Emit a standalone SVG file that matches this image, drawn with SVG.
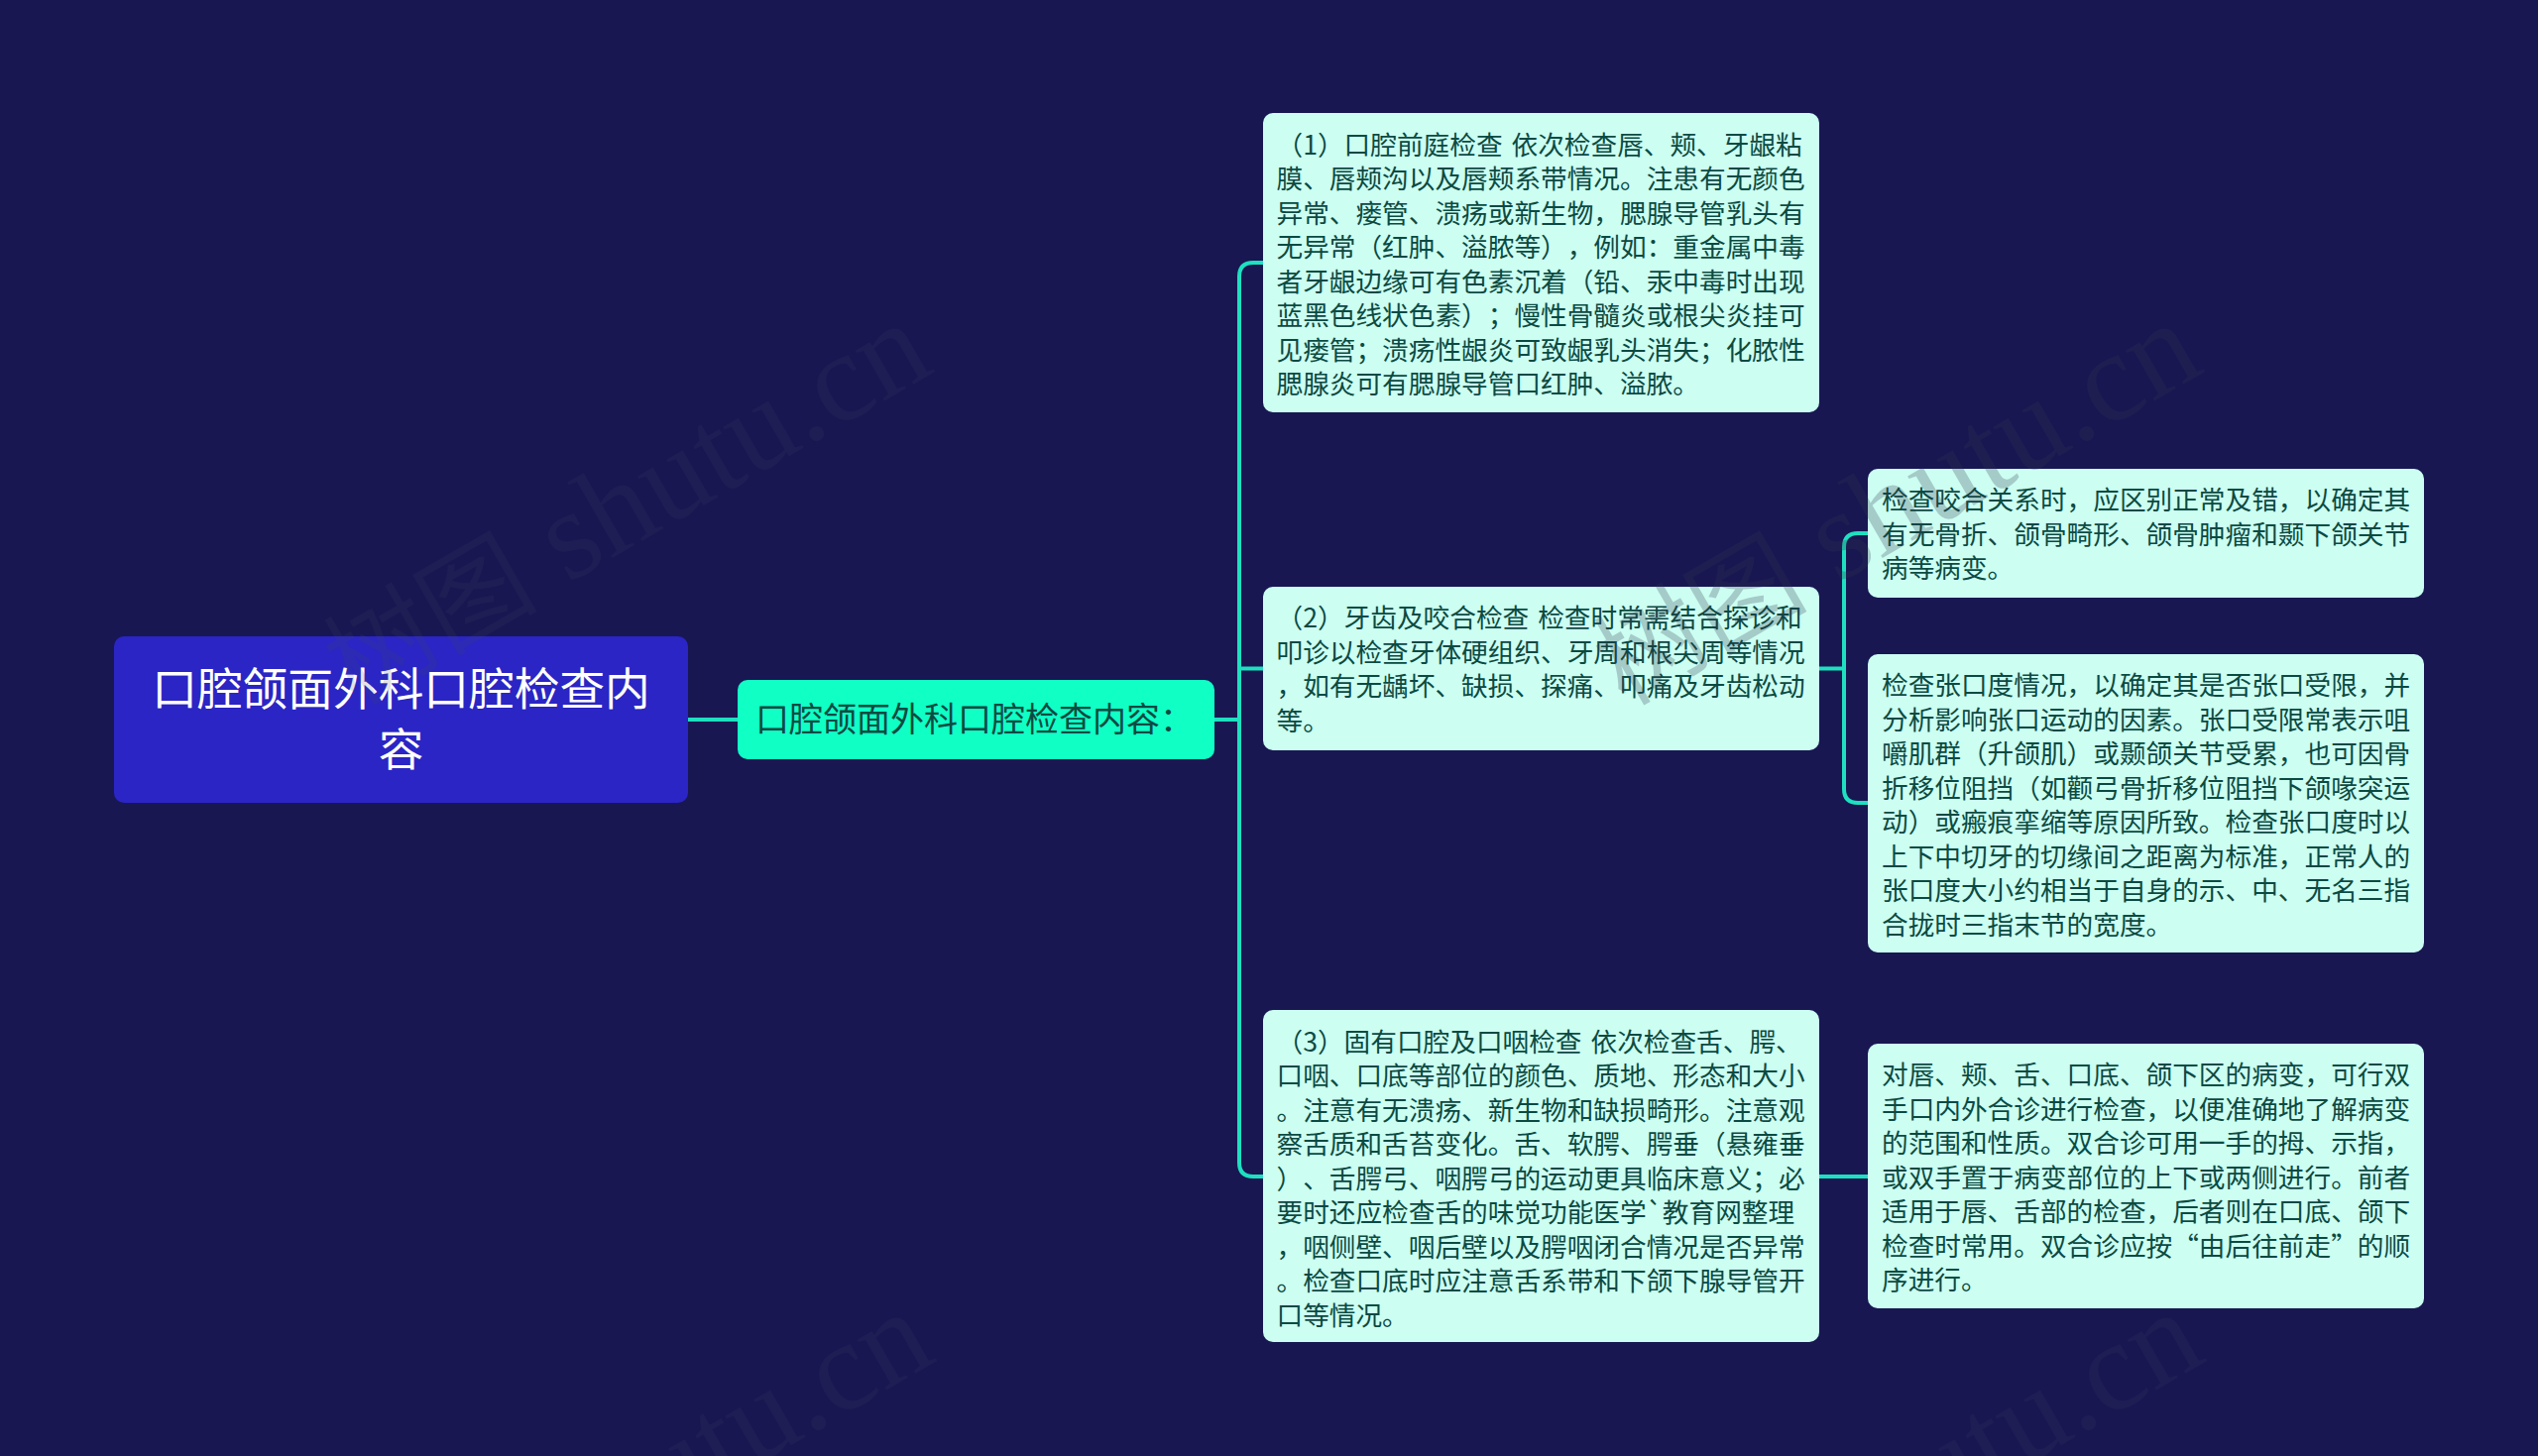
<svg xmlns="http://www.w3.org/2000/svg" width="2560" height="1469" viewBox="0 0 2560 1469">
<style>
text{font-family:"Noto Sans CJK SC","Noto Sans",sans-serif;text-spacing-trim:space-all;font-kerning:none}
.leaf rect{fill:#ccfff2}
.leaf text{fill:#0b4a42;font-size:26.67px;word-spacing:3px}
.conn{fill:none;stroke:#1ee0c0;stroke-width:4}
.wm{font-family:"Liberation Serif","Noto Sans CJK SC",serif;font-size:128px;text-anchor:end;fill:#444860;opacity:.15}
.wm tspan{font-size:108px}
</style>
<rect id="bg" width="2560" height="1469" fill="#181752"/>
<g id="connectors">
<path class="conn" d="M694 726H744"/>
<path class="conn" d="M1225 726H1250"/>
<path class="conn" d="M1274 265H1264Q1250 265 1250 279V1173Q1250 1187 1264 1187H1274"/>
<path class="conn" d="M1250 674.500H1274"/>
<path class="conn" d="M1835 674.500H1860"/>
<path class="conn" d="M1884 538H1874Q1860 538 1860 552V796Q1860 810 1874 810H1884"/>
<path class="conn" d="M1835 1187H1884"/>
</g>
<g id="root">
<rect x="115" y="642" width="579" height="168" rx="10" fill="#2a25c4"/>
<text x="404.500" y="712" fill="#fff" font-size="45.700" text-anchor="middle">口腔颌面外科口腔检查内</text>
<text x="404.500" y="773" fill="#fff" font-size="45.700" text-anchor="middle">容</text>
</g>
<g id="sub">
<rect x="744" y="686" width="481" height="80" rx="10" fill="#10ffc5"/>
<text x="762" y="738" fill="#0b4a42" font-size="34">口腔颌面外科口腔检查内容：</text>
</g>
<g id="n1" class="leaf">
<rect x="1274" y="114" width="561" height="302" rx="10"/>
<text x="1287.500" y="155.500">（1）口腔前庭检查 依次检查唇、颊、牙龈粘<tspan x="1287.500" dy="34.500">膜、唇颊沟以及唇颊系带情况。注患有无颜色</tspan><tspan x="1287.500" dy="34.500">异常、瘘管、溃疡或新生物，腮腺导管乳头有</tspan><tspan x="1287.500" dy="34.500">无异常（红肿、溢脓等），例如：重金属中毒</tspan><tspan x="1287.500" dy="34.500">者牙龈边缘可有色素沉着（铅、汞中毒时出现</tspan><tspan x="1287.500" dy="34.500">蓝黑色线状色素）；慢性骨髓炎或根尖炎挂可</tspan><tspan x="1287.500" dy="34.500">见瘘管；溃疡性龈炎可致龈乳头消失；化脓性</tspan><tspan x="1287.500" dy="34.500">腮腺炎可有腮腺导管口红肿、溢脓。</tspan></text>
</g>
<g id="n2" class="leaf">
<rect x="1274" y="592" width="561" height="165" rx="10"/>
<text x="1287.500" y="633">（2）牙齿及咬合检查 检查时常需结合探诊和<tspan x="1287.500" dy="34.500">叩诊以检查牙体硬组织、牙周和根尖周等情况</tspan><tspan x="1287.500" dy="34.500">，如有无龋坏、缺损、探痛、叩痛及牙齿松动</tspan><tspan x="1287.500" dy="34.500">等。</tspan></text>
</g>
<g id="n3" class="leaf">
<rect x="1274" y="1019" width="561" height="335" rx="10"/>
<text x="1287.500" y="1060.500">（3）固有口腔及口咽检查 依次检查舌、腭、<tspan x="1287.500" dy="34.500">口咽、口底等部位的颜色、质地、形态和大小</tspan><tspan x="1287.500" dy="34.500">。注意有无溃疡、新生物和缺损畸形。注意观</tspan><tspan x="1287.500" dy="34.500">察舌质和舌苔变化。舌、软腭、腭垂（悬雍垂</tspan><tspan x="1287.500" dy="34.500">）、舌腭弓、咽腭弓的运动更具临床意义；必</tspan><tspan x="1287.500" dy="34.500">要时还应检查舌的味觉功能医学`教育网整理</tspan><tspan x="1287.500" dy="34.500">，咽侧壁、咽后壁以及腭咽闭合情况是否异常</tspan><tspan x="1287.500" dy="34.500">。检查口底时应注意舌系带和下颌下腺导管开</tspan><tspan x="1287.500" dy="34.500">口等情况。</tspan></text>
</g>
<g id="n4" class="leaf">
<rect x="1884" y="473" width="561" height="130" rx="10"/>
<text x="1898" y="514">检查咬合关系时，应区别正常及错，以确定其<tspan x="1898" dy="34.500">有无骨折、颌骨畸形、颌骨肿瘤和颞下颌关节</tspan><tspan x="1898" dy="34.500">病等病变。</tspan></text>
</g>
<g id="n5" class="leaf">
<rect x="1884" y="660" width="561" height="301" rx="10"/>
<text x="1898" y="701">检查张口度情况，以确定其是否张口受限，并<tspan x="1898" dy="34.500">分析影响张口运动的因素。张口受限常表示咀</tspan><tspan x="1898" dy="34.500">嚼肌群（升颌肌）或颞颌关节受累，也可因骨</tspan><tspan x="1898" dy="34.500">折移位阻挡（如颧弓骨折移位阻挡下颌喙突运</tspan><tspan x="1898" dy="34.500">动）或瘢痕挛缩等原因所致。检查张口度时以</tspan><tspan x="1898" dy="34.500">上下中切牙的切缘间之距离为标准，正常人的</tspan><tspan x="1898" dy="34.500">张口度大小约相当于自身的示、中、无名三指</tspan><tspan x="1898" dy="34.500">合拢时三指末节的宽度。</tspan></text>
</g>
<g id="n6" class="leaf">
<rect x="1884" y="1053" width="561" height="267" rx="10"/>
<text x="1898" y="1094">对唇、颊、舌、口底、颌下区的病变，可行双<tspan x="1898" dy="34.500">手口内外合诊进行检查，以便准确地了解病变</tspan><tspan x="1898" dy="34.500">的范围和性质。双合诊可用一手的拇、示指，</tspan><tspan x="1898" dy="34.500">或双手置于病变部位的上下或两侧进行。前者</tspan><tspan x="1898" dy="34.500">适用于唇、舌部的检查，后者则在口底、颌下</tspan><tspan x="1898" dy="34.500">检查时常用。双合诊应按“由后往前走”的顺</tspan><tspan x="1898" dy="34.500">序进行。</tspan></text>
</g>
<g id="watermarks">
<text class="wm" transform="translate(945,374) rotate(-30)"><tspan>树图</tspan> shutu.cn</text>
<text class="wm" style="fill:#30344f;opacity:.25" transform="translate(2226,374) rotate(-30)"><tspan>树图</tspan> shutu.cn</text>
<text class="wm" transform="translate(947,1372) rotate(-30)"><tspan>树图</tspan> shutu.cn</text>
<text class="wm" transform="translate(2228,1372) rotate(-30)"><tspan>树图</tspan> shutu.cn</text>
</g>
</svg>
